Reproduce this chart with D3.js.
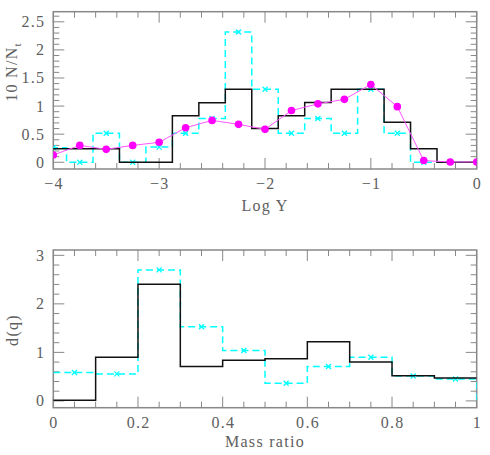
<!DOCTYPE html>
<html>
<head>
<meta charset="utf-8">
<script src="https://cdn.jsdelivr.net/npm/d3@7"></script>
<style>
  body { margin: 0; background: #fff; }
  text { font-family: "Liberation Serif", "DejaVu Serif", serif; fill: #606060; letter-spacing: 1.3px; }
</style>
</head>
<body>
<div id="chart"></div>
<script>
// top panel: log Y histograms, bins of 0.25 centred on these values
var logyCenters = [-4, -3.75, -3.5, -3.25, -3, -2.75, -2.5, -2.25, -2, -1.75, -1.5, -1.25, -1, -0.75, -0.5, -0.25, 0]
var logyBlack = [0.24, 0.24, 0.24, 0, 0, 0.83, 1.06, 1.3, 0.6, 0.83, 1.065, 1.3, 1.3, 0.71, 0.24, 0, 0]
var logyCyan = [0.26, 0, 0.515, 0, 0.27, 0.515, 0.78, 2.32, 1.3, 0.515, 0.78, 0.515, 1.3, 0.515, 0, 0, 0]
var logyMagenta = [0.13, 0.3, 0.23, 0.3, 0.355, 0.615, 0.745, 0.675, 0.586, 0.92, 1.04, 1.12, 1.385, 0.99, 0.03, 0.005, 0.005]
var logyTicks = [-4, -3, -2, -1, 0]
var nTicks = [0, 0.5, 1, 1.5, 2, 2.5]

// bottom panel: mass ratio histograms, bins of 0.1
var qCenters = [0.05, 0.15, 0.25, 0.35, 0.45, 0.55, 0.65, 0.75, 0.85, 0.95]
var qBlack = [0.015, 0.9, 2.405, 0.71, 0.84, 0.87, 1.22, 0.8, 0.52, 0.47]
var qCyan = [0.585, 0.557, 2.7, 1.53, 1.04, 0.364, 0.71, 0.9, 0.515, 0.45]
var qTicks = [0, 0.2, 0.4, 0.6, 0.8, 1]
var dTicks = [0, 1, 2, 3]

var W = 490, H = 455
var left = 53.3, right = 476.7

var svg = d3.select("#chart").append("svg")
  .attr("width", W)
  .attr("height", H)

var fmt = function (v) {
  return (v < 0 ? "\u2212" : "") + Math.abs(v)
}

var panel = function (opt) {
  var x = d3.scaleLinear().domain(opt.xdom).range([left, right])
  var y = d3.scaleLinear().domain(opt.ydom).range([opt.bottom, opt.top])
  var g = svg.append("g")

  var clipId = "clip" + opt.id
  g.append("clipPath").attr("id", clipId)
    .append("rect")
    .attr("x", left).attr("y", opt.top)
    .attr("width", right - left).attr("height", opt.bottom - opt.top)

  // ticks on all four sides
  var tk = g.append("g").attr("stroke", "#888").attr("stroke-width", 1)
  var xs = d3.range(opt.xdom[0], opt.xdom[1] + 1e-9, opt.xminor)
  xs.forEach(function (v) {
    var major = Math.abs(v / opt.xmajor - Math.round(v / opt.xmajor)) < 1e-6
    var len = major ? 11 : 6
    tk.append("line").attr("x1", x(v)).attr("x2", x(v)).attr("y1", opt.bottom).attr("y2", opt.bottom - len)
    tk.append("line").attr("x1", x(v)).attr("x2", x(v)).attr("y1", opt.top).attr("y2", opt.top + len)
  })
  var ys = d3.range(0, opt.ydom[1], opt.yminor)
  ys.forEach(function (v) {
    var major = Math.abs(v / opt.ymajor - Math.round(v / opt.ymajor)) < 1e-6
    var len = major ? 11 : 6
    tk.append("line").attr("y1", y(v)).attr("y2", y(v)).attr("x1", left).attr("x2", left + len)
    tk.append("line").attr("y1", y(v)).attr("y2", y(v)).attr("x1", right).attr("x2", right - len)
  })

  g.append("rect")
    .attr("x", left).attr("y", opt.top)
    .attr("width", right - left).attr("height", opt.bottom - opt.top)
    .attr("fill", "none").attr("stroke", "#888").attr("stroke-width", 1.5)

  // tick labels
  opt.xlabels.forEach(function (v) {
    g.append("text").attr("x", x(v) + 0.7).attr("y", opt.bottom + 20)
      .attr("text-anchor", "middle").attr("font-size", 16).text(fmt(v))
  })
  opt.ylabels.forEach(function (v) {
    g.append("text").attr("x", left - 8).attr("y", y(v) + 5.5)
      .attr("text-anchor", "end").attr("font-size", 16).text(fmt(v))
  })

  var plot = g.append("g").attr("clip-path", "url(#" + clipId + ")")

  var stepPts = function (centers, vals, w) {
    var pts = []
    centers.forEach(function (c, i) {
      pts.push([c - w / 2, vals[i]])
      pts.push([c + w / 2, vals[i]])
    })
    return pts
  }
  var line = d3.line().x(d => x(d[0])).y(d => y(d[1]))

  var cyanPts = stepPts(opt.centers, opt.cyan, opt.w)
  if (opt.cyanDrop) cyanPts.push([opt.xdom[1], 0])
  plot.append("path")
    .attr("d", line(cyanPts))
    .attr("fill", "none").attr("stroke", "#00ffff")
    .attr("stroke-width", 1.5).attr("stroke-dasharray", "7,4")

  var cross = plot.append("g").attr("stroke", "#00ffff").attr("stroke-width", 1.3)
  opt.centers.forEach(function (c, i) {
    var cx = x(c), cy = y(opt.cyan[i]), s = 2.5
    cross.append("line").attr("x1", cx - s).attr("x2", cx + s).attr("y1", cy - s).attr("y2", cy + s)
    cross.append("line").attr("x1", cx - s).attr("x2", cx + s).attr("y1", cy + s).attr("y2", cy - s)
  })

  plot.append("path")
    .attr("d", line(stepPts(opt.centers, opt.black, opt.w)))
    .attr("fill", "none").attr("stroke", "#111").attr("stroke-width", 1.5)

  if (opt.magenta) {
    var mp = opt.centers.map((c, i) => [c, opt.magenta[i]])
    plot.append("path")
      .attr("d", line(mp))
      .attr("fill", "none").attr("stroke", "#ff55ff").attr("stroke-width", 1)
    plot.selectAll("circle").data(mp).join("circle")
      .attr("cx", d => x(d[0])).attr("cy", d => y(d[1])).attr("r", 3.8)
      .attr("fill", "#ff00ff")
  }

  // axis titles
  g.append("text").attr("x", (left + right) / 2).attr("y", opt.bottom + opt.xtitleDy)
    .attr("text-anchor", "middle").attr("font-size", 16).text(opt.xtitle)
  var yt = g.append("text")
    .attr("transform", "translate(" + opt.ytitleX + "," + opt.ytitleY + ") rotate(-90)")
    .attr("text-anchor", "middle").attr("font-size", 16)
  opt.ytitle(yt)
}

panel({
  id: 1, top: 11.7, bottom: 169,
  xdom: [-4, 0], ydom: [-0.12, 2.68],
  xminor: 0.2, xmajor: 1, yminor: 0.1, ymajor: 0.5,
  xlabels: logyTicks, ylabels: nTicks,
  centers: logyCenters, w: 0.25,
  black: logyBlack, cyan: logyCyan, magenta: logyMagenta,
  xtitle: "Log Y", xtitleDy: 42,
  ytitleX: 17, ytitleY: 72,
  ytitle: function (t) {
    t.append("tspan").text("10 N/N")
    t.append("tspan").attr("font-size", 11).attr("dy", 4).text("t")
  }
})

panel({
  id: 2, top: 250, bottom: 407.7,
  xdom: [0, 1], ydom: [-0.14, 3.11],
  xminor: 0.05, xmajor: 0.2, yminor: 0.2, ymajor: 1,
  xlabels: qTicks, ylabels: dTicks,
  centers: qCenters, w: 0.1,
  black: qBlack, cyan: qCyan, cyanDrop: true,
  xtitle: "Mass ratio", xtitleDy: 39,
  ytitleX: 18, ytitleY: 330,
  ytitle: function (t) { t.text("d(q)") }
})
</script>
</body>
</html>
